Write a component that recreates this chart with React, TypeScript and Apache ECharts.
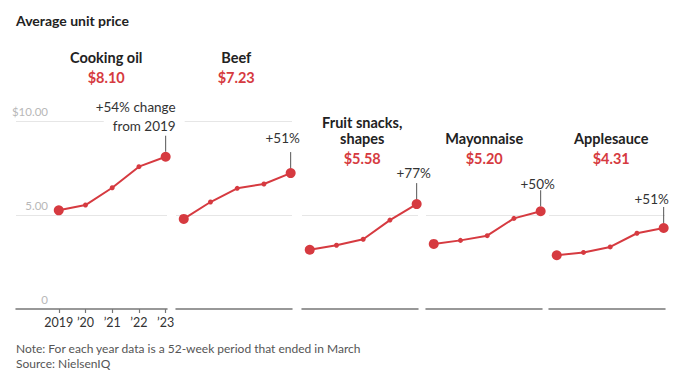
import React, { useEffect, useRef } from "react";
import * as echarts from "echarts";

const years = [2019, 2020, 2021, 2022, 2023];
const categories = ["Cooking oil", "Beef", "Fruit snacks,\nshapes", "Mayonnaise", "Applesauce"];
const prices = ["$8.10", "$7.23", "$5.58", "$5.20", "$4.31"];
const changes = ["+54% change\nfrom 2019", "+51%", "+77%", "+50%", "+51%"];
const cookingOil = [5.25, 5.53, 6.45, 7.57, 8.1];
const beef = [4.79, 5.69, 6.42, 6.65, 7.23];
const fruitSnacks = [3.15, 3.39, 3.71, 4.73, 5.58];
const mayonnaise = [3.46, 3.65, 3.9, 4.82, 5.2];
const applesauce = [2.86, 3.01, 3.3, 4.03, 4.31];
const seriesValues = [cookingOil, beef, fruitSnacks, mayonnaise, applesauce];
const yTicks = [0, 5, 10];
const yTickLabels = ["0", "5.00", "$10.00"];
const xTickLabels = ["2019", "\u201920", "\u201921", "\u201922", "\u201923"];
const chartTitle = "Average unit price";
const noteLines = [
  "Note: For each year data is a 52-week period that ended in March",
  "Source: NielsenIQ",
];

// layout / style only
const FONT = "Lato, 'Noto Sans', sans-serif";
const RED = "#d63a40";
const panelLeft = [16, 176, 302, 426, 549];
const panelWidth = [151, 116, 116, 116, 116];
const panelXMin = [2017.4, 2018.71, 2018.71, 2018.71, 2018.71];
const panelXMax = 2023.05;
const titleDx = [-6, -1, -1, -3, 1];
const titleNameY = [57, 57, 130, 138, 138];
const titlePriceY = [77, 77, 158, 158, 158];
const annotDx = [19, -8, -3, -3, -12];
const annotDy = [31, 35, 31, 27, 29];

export default function App() {
  const ref = useRef<HTMLDivElement>(null);
  useEffect(() => {
    if (!ref.current) return;
    const chart = echarts.init(ref.current, null, { renderer: "svg" });
    const grids = panelLeft.map((l, i) => ({
      left: l,
      width: panelWidth[i],
      top: 121,
      height: 188,
    }));
    const xAxes = panelLeft.map((_, i) => ({
      type: "value",
      gridIndex: i,
      min: panelXMin[i],
      max: panelXMax,
      splitLine: { show: false },
      axisLine: { show: true, onZero: false, lineStyle: { color: "#777", width: 1.5 } },
      axisTick: {
        show: i === 0,
        customValues: years,
        length: 4,
        lineStyle: { color: "#777", width: 1.2 },
      },
      axisLabel: {
        show: i === 0,
        customValues: years,
        margin: 7,
        color: "#333",
        fontSize: 12.5,
        fontFamily: FONT,
        formatter: (v: number) => xTickLabels[years.indexOf(Math.round(v))] ?? "",
      },
    }));
    const yAxes = panelLeft.map((_, i) => ({
      type: "value",
      gridIndex: i,
      min: 0,
      max: 10,
      interval: 5,
      axisLine: { show: false },
      axisTick: { show: false },
      splitLine: {
        show: true,
        lineStyle: {
          color: i < 2 ? ["transparent", "#e6e6e6", "#e6e6e6"] : ["transparent", "#e6e6e6", "transparent"],
          width: 1,
        },
      },
      axisLabel: {
        show: i === 0,
        inside: false,
        margin: -32,
        align: "right",
        verticalAlign: "bottom",
        padding: [0, 0, 4, 0],
        color: "#b8b8b8",
        fontSize: 11.5,
        fontFamily: FONT,
        formatter: (v: number) => yTickLabels[yTicks.indexOf(v)] ?? "",
      },
    }));
    const series = seriesValues.map((vals, i) => ({
      type: "line",
      xAxisIndex: i,
      yAxisIndex: i,
      data: years.map((y, k) => [y, vals[k]]),
      symbol: "circle",
      symbolSize: (_v: any, p: any) => (p.dataIndex === 0 || p.dataIndex === years.length - 1 ? 10 : 5),
      itemStyle: { color: RED },
      lineStyle: { color: RED, width: 2 },
      z: 5,
    }));
    chart.setOption({
      animation: false,
      backgroundColor: "#fff",
      grid: grids,
      xAxis: xAxes,
      yAxis: yAxes,
      series,
    });

    const graphic: any[] = [];
    graphic.push({
      type: "text",
      left: 16,
      top: 13,
      style: { text: chartTitle, fill: "#222", fontSize: 14, fontWeight: "bold", fontFamily: FONT },
    });
    noteLines.forEach((t, k) => {
      graphic.push({
        type: "text",
        x: 16,
        y: 348 + k * 15,
        style: { text: t, fill: "#555", fontSize: 12, fontFamily: FONT, verticalAlign: "middle" },
      });
    });
    seriesValues.forEach((vals, i) => {
      const p0 = chart.convertToPixel({ gridIndex: i }, [years[0], vals[0]]) as number[];
      const last = years.length - 1;
      const p1 = chart.convertToPixel({ gridIndex: i }, [years[last], vals[last]]) as number[];
      const cx = (p0[0] + p1[0]) / 2 + titleDx[i];
      const nameLines = categories[i].split("\n");
      nameLines.forEach((ln, k) => {
        const y = titleNameY[i] + (k - (nameLines.length - 1) / 2) * 16;
        graphic.push({
          type: "text",
          x: cx,
          y,
          z: 100,
          style: {
            text: ln, fill: "#222", fontSize: 14.5, fontWeight: "bold", fontFamily: FONT,
            align: "center", verticalAlign: "middle",
          },
        });
      });
      graphic.push({
        type: "text",
        x: cx,
        y: titlePriceY[i],
        z: 100,
        style: {
          text: prices[i], fill: RED, fontSize: 14.5, fontWeight: "bold", fontFamily: FONT,
          align: "center", verticalAlign: "middle",
        },
      });
      graphic.push({
        type: "line",
        z: 100,
        shape: { x1: p1[0], y1: p1[1] - 21, x2: p1[0], y2: p1[1] - 5 },
        style: { stroke: "#555", lineWidth: 1 },
      });
      const aLines = changes[i].split("\n");
      aLines.forEach((ln, k) => {
        const y = p1[1] - annotDy[i] - (aLines.length - 1 - k) * 19;
        graphic.push({
          type: "text",
          x: p1[0] + annotDx[i],
          y,
          z: 100,
          style: {
            text: ln, fill: "#333", fontSize: 13.5, fontFamily: FONT,
            align: i === 0 ? "right" : "center", verticalAlign: "middle",
            backgroundColor: i === 0 ? "#fff" : "transparent",
            padding: i === 0 ? [0, 9, 0, 9] : 0,
          },
        });
      });
    });
    chart.setOption({ graphic });
    return () => chart.dispose();
  }, []);
  return (
    <div
      ref={ref}
      style={{ position: "fixed", left: 0, top: 0, width: 680, height: 381, background: "#fff" }}
    />
  );
}
